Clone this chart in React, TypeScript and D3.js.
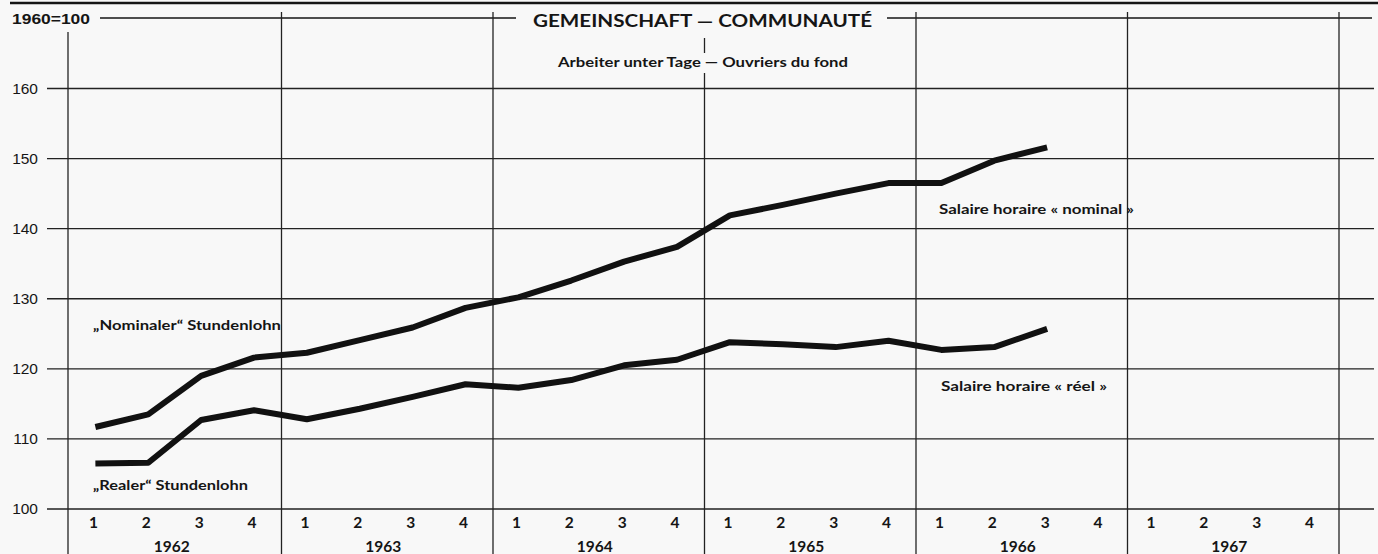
import * as d3 from 'd3';
import React from 'react';

// quarterly hourly wages, underground workers (1960 = 100)
const years = [1962, 1963, 1964, 1965, 1966, 1967];
const quarters = [1, 2, 3, 4];
const yTicks = [100, 110, 120, 130, 140, 150, 160];

const nominal = [
  111.7, 113.5, 119.0, 121.6,
  122.3, 124.1, 125.9, 128.7,
  130.2, 132.6, 135.3, 137.4,
  141.9, 143.4, 145.0, 146.5,
  146.5, 149.7, 151.6,
];
const real = [
  106.5, 106.6, 112.7, 114.1,
  112.8, 114.3, 116.0, 117.8,
  117.3, 118.4, 120.5, 121.3,
  123.8, 123.5, 123.1, 124.0,
  122.7, 123.1, 125.7,
];

const W = 1378;
const H = 554;
const gill = "Lato, 'Open Sans', sans-serif";
const helv = "'Liberation Sans', Arial, sans-serif";
const ink = '#151515';

// every quarter, year + offset in year units
const periods = years.flatMap(y => quarters.map(q => ({ y, q, t: y + (q - 0.52) / 4 })));

export default function App() {
  const x = d3.scaleLinear([1962, 1968], [70, 1339]);
  const y = d3.scaleLinear([100, 160], [509, 88.5]);

  const line = d3.line<number>()
    .x((_, i) => x(periods[i].t))
    .y(d => y(d));

  const bounds = d3.range(1962, 1969);

  return (
    <svg width={W} height={H} style={{ position: 'absolute', left: 0, top: 0, background: '#f8f8f8' }}>
      {/* top border of the page */}
      <line x1={10} x2={W} y1={3} y2={3} stroke={ink} strokeWidth={2.5} />

      {/* header rule */}
      <line x1={100} x2={516} y1={18} y2={18} stroke={ink} strokeWidth={1.3} />
      <line x1={887} x2={1372} y1={18} y2={18} stroke={ink} strokeWidth={1.3} />

      <text x={12} y={24} fontFamily={helv} fontWeight="bold" fontSize={15} fill={ink}
        textLength={78} lengthAdjust="spacingAndGlyphs">1960=100</text>
      <text x={533} y={27} fontFamily={gill} fontWeight="bold" fontSize={16.5} fill={ink}
        textLength={339} lengthAdjust="spacingAndGlyphs">GEMEINSCHAFT — COMMUNAUTÉ</text>
      <text x={558} y={67} fontFamily={gill} fontWeight="bold" fontSize={12.5} fill={ink}
        textLength={290} lengthAdjust="spacingAndGlyphs">Arbeiter unter Tage — Ouvriers du fond</text>

      {/* horizontal grid + y labels */}
      {yTicks.map(v => (
        <g key={v}>
          <line x1={47} x2={1374} y1={y(v)} y2={y(v)} stroke="#222" strokeWidth={1.3} />
          <text x={38} y={y(v) + 5} textAnchor="end" fontFamily={helv} fontSize={15.5} fill={ink}>{v}</text>
        </g>
      ))}

      {/* vertical year boundaries */}
      {bounds.map(b => {
        const xx = x(b) - (b === 1962 ? 2 : 0);
        if (b === 1965) {
          return (
            <g key={b}>
              <line x1={xx} x2={xx} y1={38} y2={53} stroke="#222" strokeWidth={1.3} />
              <line x1={xx} x2={xx} y1={73} y2={H} stroke="#222" strokeWidth={1.3} />
            </g>
          );
        }
        return <line key={b} x1={xx} x2={xx} y1={b === 1962 ? 32 : 12} y2={H} stroke="#222" strokeWidth={1.3} />;
      })}

      {/* quarter and year labels */}
      {periods.map(p => (
        <text key={`${p.y}-${p.q}`} x={x(p.t) - 2} y={528} textAnchor="middle"
          fontFamily={gill} fontWeight="bold" fontSize={15.5} fill={ink}>{p.q}</text>
      ))}
      {years.map(yr => (
        <text key={yr} x={x(yr + 0.5) - 4} y={552} textAnchor="middle"
          fontFamily={gill} fontWeight="bold" fontSize={15.5} fill={ink}>{yr}</text>
      ))}

      {/* series */}
      <path d={line(nominal) ?? ''} fill="none" stroke="#111" strokeWidth={6} strokeLinejoin="round" />
      <path d={line(real) ?? ''} fill="none" stroke="#111" strokeWidth={6} strokeLinejoin="round" />

      {/* series labels */}
      <text x={93} y={330} fontFamily={gill} fontWeight="bold" fontSize={12.5} fill={ink}
        textLength={188} lengthAdjust="spacingAndGlyphs">„Nominaler“ Stundenlohn</text>
      <text x={93} y={490} fontFamily={gill} fontWeight="bold" fontSize={12.5} fill={ink}
        textLength={155} lengthAdjust="spacingAndGlyphs">„Realer“ Stundenlohn</text>
      <text x={939} y={214} fontFamily={gill} fontWeight="bold" fontSize={12.5} fill={ink}
        textLength={195} lengthAdjust="spacingAndGlyphs">Salaire horaire « nominal »</text>
      <text x={941} y={391} fontFamily={gill} fontWeight="bold" fontSize={12.5} fill={ink}
        textLength={166} lengthAdjust="spacingAndGlyphs">Salaire horaire « réel »</text>
    </svg>
  );
}
